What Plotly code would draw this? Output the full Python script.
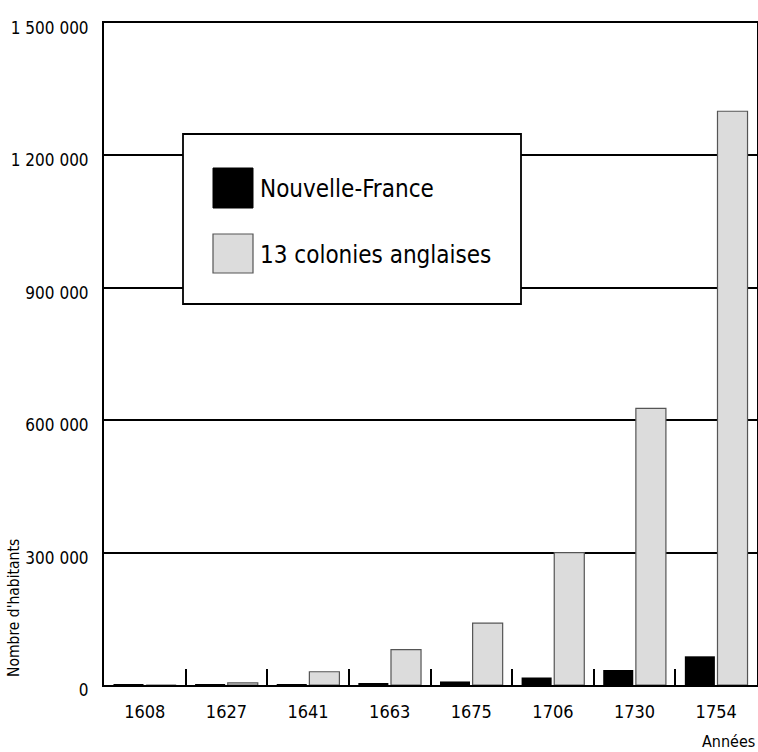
import plotly.graph_objects as go

years = ["1608", "1627", "1641", "1663", "1675", "1706", "1730", "1754"]
nouvelle_france = [30, 100, 300, 3000, 8000, 17000, 34000, 65000]
colonies_anglaises = [0, 5000, 30000, 80000, 140000, 300000, 627000, 1300000]
series_names = ["Nouvelle-France", "13 colonies anglaises"]
y_tickvals = [0, 300000, 600000, 900000, 1200000, 1500000]
y_ticktext = ["0", "300 000", "600 000", "900 000", "1 200 000", "1 500 000"]
x_title = "Années"
y_title = "Nombre d'habitants"

FONT = "DejaVu Sans Condensed, Liberation Sans Narrow, Arial Narrow, sans-serif"
W, H = 758, 752
ML, MR, MT, MB = 104, 1, 23, 67
PW, PH = W - ML - MR, H - MT - MB

def px(x):
    return (x - ML) / PW

def py(y):
    return (H - MB - y) / PH

BLACK = "#000000"
GREY = "#dcdcdc"
GREY_LINE = "#555555"

fig = go.Figure()
fig.add_trace(go.Bar(x=years, y=nouvelle_france, name=series_names[0],
                     marker=dict(color=BLACK, line=dict(width=0))))
fig.add_trace(go.Bar(x=years, y=colonies_anglaises, name=series_names[1],
                     marker=dict(color=GREY, line=dict(color=GREY_LINE, width=1.2))))

shapes = [
    dict(type="rect", xref="paper", yref="paper", x0=px(183), x1=px(521), y0=py(304), y1=py(134),
         fillcolor="white", line=dict(color="black", width=1.8), layer="above"),
    dict(type="rect", xref="paper", yref="paper", x0=px(213), x1=px(253), y0=py(208), y1=py(168),
         fillcolor=BLACK, line=dict(color=BLACK, width=1), layer="above"),
    dict(type="rect", xref="paper", yref="paper", x0=px(213), x1=px(253), y0=py(273), y1=py(234),
         fillcolor=GREY, line=dict(color=GREY_LINE, width=1.2), layer="above"),
]
annotations = [
    dict(text=series_names[0], xref="paper", yref="paper", x=px(258), y=py(189),
         xanchor="left", yanchor="middle", showarrow=False, font=dict(size=24, color="black", family=FONT)),
    dict(text=series_names[1], xref="paper", yref="paper", x=px(258), y=py(255),
         xanchor="left", yanchor="middle", showarrow=False, font=dict(size=24, color="black", family=FONT)),
    dict(text=x_title, xref="paper", yref="paper", x=px(757), y=py(741),
         xanchor="right", yanchor="middle", showarrow=False, font=dict(size=16, color="black", family=FONT)),
    dict(text=y_title, xref="paper", yref="paper", x=px(14), y=py(608), textangle=-90,
         xanchor="center", yanchor="middle", showarrow=False, font=dict(size=15.5, color="black", family=FONT)),
]

fig.update_layout(
    width=W, height=H,
    margin=dict(l=ML, r=MR, t=MT, b=MB, pad=0, autoexpand=False),
    paper_bgcolor="white", plot_bgcolor="white",
    barmode="group", bargap=0.2, bargroupgap=0.08,
    showlegend=False,
    font=dict(family=FONT, size=17, color="black"),
    shapes=shapes, annotations=annotations,
    xaxis=dict(type="category", showgrid=False, showline=True, linecolor="black", linewidth=2,
               mirror=True, ticks="inside", ticklen=16, tickwidth=2, tickcolor="black",
               tickson="boundaries", ticklabelstandoff=9, tickfont=dict(size=18, family=FONT),
               range=[-0.5, 7.5], automargin=False),
    yaxis=dict(range=[0, 1500000], tickvals=y_tickvals, ticktext=y_ticktext,
               showgrid=True, gridcolor="black", gridwidth=1.5, zeroline=False,
               showline=True, linecolor="black", linewidth=2, mirror=True,
               ticks="", ticklabelstandoff=10, ticklabelshift=5,
               tickfont=dict(size=17, family=FONT), automargin=False),
)

fig.write_html("out.html", config={"displayModeBar": False},
               post_script="document.body.style.margin='0';document.body.style.padding='0';")
